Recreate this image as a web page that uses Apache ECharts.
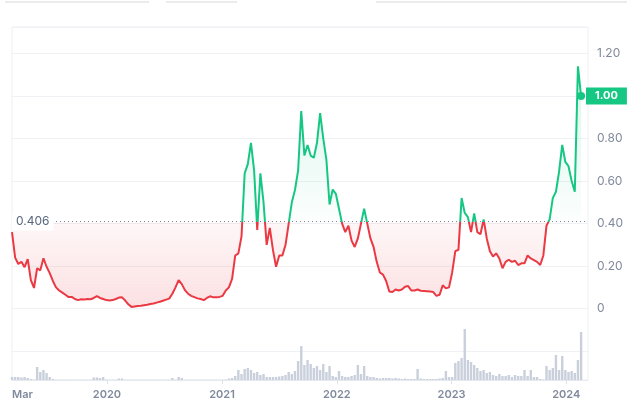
<!DOCTYPE html>
<html>
<head>
<meta charset="utf-8">
<title>Price chart</title>
<script src="https://cdn.jsdelivr.net/npm/echarts@6/dist/echarts.min.js"></script>
<style>
  html, body { margin: 0; padding: 0; background: #fff; }
  #chart { width: 631px; height: 416px; }
</style>
</head>
<body>
<div id="chart"></div>
<script>
// price sampled every 10 days from the first date
const startDate = '2019-03-05'
const stepDays = 10
const prices = [
  0.36, 0.24, 0.21, 0.22, 0.195, 0.233, 0.134, 0.097, 0.19, 0.18,
  0.237, 0.197, 0.167, 0.13, 0.10, 0.085, 0.075, 0.065, 0.054, 0.055,
  0.045, 0.04, 0.044, 0.043, 0.045, 0.044, 0.05, 0.059, 0.05, 0.045,
  0.04, 0.038, 0.04, 0.045, 0.052, 0.053, 0.038, 0.02, 0.008, 0.01,
  0.012, 0.013, 0.016, 0.018, 0.022, 0.024, 0.028, 0.032, 0.037, 0.042,
  0.047, 0.07, 0.10, 0.134, 0.115, 0.087, 0.07, 0.06, 0.054, 0.048,
  0.045, 0.04, 0.05, 0.058, 0.053, 0.053, 0.055, 0.06, 0.085, 0.10,
  0.14, 0.25, 0.26, 0.34, 0.636, 0.68, 0.78, 0.652, 0.37, 0.636,
  0.50, 0.30, 0.38, 0.275, 0.197, 0.25, 0.25, 0.30, 0.40, 0.50,
  0.558, 0.65, 0.93, 0.72, 0.77, 0.72, 0.71, 0.78, 0.92, 0.80,
  0.70, 0.49, 0.56, 0.54, 0.47, 0.40, 0.36, 0.39, 0.32, 0.29,
  0.33, 0.40, 0.47, 0.40, 0.33, 0.29, 0.22, 0.17, 0.16, 0.13,
  0.08, 0.078, 0.09, 0.085, 0.09, 0.103, 0.106, 0.085, 0.085, 0.09,
  0.084, 0.083, 0.082, 0.08, 0.078, 0.06, 0.065, 0.11, 0.095, 0.10,
  0.17, 0.27, 0.277, 0.52, 0.45, 0.43, 0.36, 0.448, 0.36, 0.35,
  0.42, 0.33, 0.27, 0.245, 0.26, 0.236, 0.19, 0.22, 0.23, 0.22,
  0.225, 0.205, 0.213, 0.213, 0.25, 0.236, 0.228, 0.22, 0.205, 0.25,
  0.39, 0.42, 0.52, 0.55, 0.644, 0.77, 0.69, 0.67, 0.60, 0.55,
  1.14, 1.00
]
// volume (relative units), same dates as prices
const volumes = [
  3, 3, 3, 2.5, 3, 2, 1, 0.5, 13, 8,
  10, 7, 3, 1, 0.3, 0.3, 0.3, 0.3, 0.3, 0.3,
  0.3, 0.3, 0.3, 0.3, 0.3, 0.3, 2.5, 2.5, 2, 3,
  0.5, 0.3, 0.3, 0.3, 1.5, 1.5, 0.3, 0.3, 0.3, 0.3,
  0.3, 0.3, 0.3, 0.3, 0.3, 0.3, 0.3, 0.3, 0.3, 0.3,
  0.3, 2, 0.3, 3, 2, 0.3, 0.3, 0.3, 0.3, 0.3,
  0.3, 0.3, 0.3, 0.3, 0.3, 0.3, 0.3, 0.3, 0.5, 1.5,
  2, 4, 10, 6, 11, 12, 10, 7, 8, 5,
  6, 3, 3, 3, 3, 3.5, 4, 5, 8, 6,
  9, 19, 34, 15, 20, 16, 12, 14, 10, 16,
  8, 14, 4, 3, 9, 4, 3, 3, 4, 5,
  15, 6, 14, 4, 3, 3, 2, 1.5, 2, 2,
  2, 1.5, 2, 1.5, 1, 1.5, 1, 1, 1, 11,
  1.5, 1, 1, 1, 1, 1, 1.5, 2, 9, 3,
  3, 17, 19, 22, 51, 20, 18, 15, 12, 9,
  10, 7, 8, 5, 4, 6, 4, 4, 5, 3,
  5, 4, 4, 10, 4, 10, 3, 3, 1, 0.5,
  14, 10, 12, 25, 10, 24, 10, 8, 9, 7,
  20, 48
]
const baseline = 0.406
const axisStart = '2019-03-05'
const axisEnd = '2024-03-10'
const tickDates = ['2019-03-05', '2020-01-01', '2021-01-01', '2022-01-01', '2023-01-01', '2024-01-01']
const tickLabels = ['Mar', '2020', '2021', '2022', '2023', '2024']

const GREEN = '#16c784'
const RED = '#ea3943'
const GREY = '#808a9d'

const chart = echarts.init(document.getElementById('chart'))

const t0 = Date.parse(startDate)
const dayMs = 86400000
const priceData = prices.map((p, i) => [t0 + i * stepDays * dayMs, p])
const volumeData = volumes.map((v, i) => [t0 + i * stepDays * dayMs, v])
const last = priceData[priceData.length - 1]
const tickValues = tickDates.map(d => Date.parse(d))
const xMin = Date.parse(axisStart)
const xMax = Date.parse(axisEnd)

// where the baseline falls inside the area's bounding box
const pMax = Math.max(...prices)
const pMin = Math.min(...prices)
const cut = (pMax - baseline) / (pMax - pMin)

const option = {
  animation: false,
  textStyle: { fontFamily: 'Inter, "Noto Sans", sans-serif' },
  graphic: [
    { type: 'line', silent: true, shape: { x1: 5, y1: 2, x2: 149, y2: 2 }, style: { stroke: '#ececec', lineWidth: 2 } },
    { type: 'line', silent: true, shape: { x1: 166, y1: 2, x2: 237, y2: 2 }, style: { stroke: '#ececec', lineWidth: 2 } },
    { type: 'line', silent: true, shape: { x1: 376, y1: 2, x2: 627, y2: 2 }, style: { stroke: '#ececec', lineWidth: 2 } }
  ],
  grid: [
    { left: 12, right: 43, top: 27, bottom: 36, show: true, borderColor: '#eceef1', borderWidth: 1 },
    { left: 12, right: 43, top: 309, bottom: 36 }
  ],
  xAxis: [
    { type: 'value', gridIndex: 0, min: xMin, max: xMax, show: false },
    {
      type: 'value', gridIndex: 1, min: xMin, max: xMax,
      axisLine: { lineStyle: { color: '#e6e9ee' } },
      axisTick: { customValues: tickValues.slice(1), length: 4, lineStyle: { color: '#dfe3e8' } },
      splitLine: { show: false },
      axisLabel: {
        customValues: tickValues,
        formatter: v => tickLabels[tickValues.indexOf(v)] || '',
        color: GREY, fontSize: 11, fontWeight: 600, margin: 9,
        alignMinLabel: 'left'
      }
    }
  ],
  yAxis: [
    {
      type: 'value', gridIndex: 0, position: 'right',
      min: -0.336, max: 1.325, splitNumber: 8,
      axisLine: { show: false },
      axisTick: { show: false },
      splitLine: { lineStyle: { color: '#f0f1f4' } },
      axisLabel: {
        color: GREY, fontSize: 12, margin: 9,
        showMinLabel: false, showMaxLabel: false,
        formatter: v => (v < 0 ? '' : v === 0 ? '0' : v.toFixed(2))
      },
      axisPointer: {
        show: true, status: 'show', value: last[1], triggerTooltip: false,
        type: 'line', lineStyle: { opacity: 0 },
        label: {
          show: true, backgroundColor: GREEN, color: '#fff', fontWeight: 'bold',
          fontSize: 11, padding: [3, 9, 3, 9], margin: -2, borderRadius: 0,
          formatter: p => Number(p.value).toFixed(2)
        }
      }
    },
    { type: 'value', gridIndex: 1, min: 0, max: 71, show: false }
  ],
  visualMap: {
    type: 'piecewise', show: false, seriesIndex: 0, dimension: 1,
    pieces: [
      { gte: -1, lte: baseline, color: RED },
      { gt: baseline, lte: 5, color: GREEN }
    ],
    outOfRange: { color: GREEN }
  },
  series: [
    {
      name: 'Price', type: 'line', xAxisIndex: 0, yAxisIndex: 0,
      data: priceData, symbol: 'none', showSymbol: false,
      lineStyle: { width: 2 },
      areaStyle: {
        origin: baseline,
        color: new echarts.graphic.LinearGradient(0, 0, 0, 1, [
          { offset: 0, color: 'rgba(22,199,132,0.24)' },
          { offset: cut, color: 'rgba(22,199,132,0.02)' },
          { offset: cut, color: 'rgba(234,57,67,0.06)' },
          { offset: 1, color: 'rgba(234,57,67,0.22)' }
        ])
      },
      markLine: {
        silent: true, symbol: 'none',
        lineStyle: { type: [1, 3], color: '#7d8696', width: 1 },
        label: {
          position: 'start', align: 'left', distance: 0,
          formatter: baseline.toFixed(3),
          color: '#58667e', fontSize: 12, backgroundColor: '#fff', padding: [3, 4]
        },
        data: [{ yAxis: baseline }]
      },
      markPoint: {
        silent: true, symbol: 'circle', symbolSize: 8,
        itemStyle: { color: GREEN },
        label: { show: false },
        data: [{ coord: last }]
      }
    },
    {
      name: 'Volume', type: 'bar', xAxisIndex: 1, yAxisIndex: 1,
      data: volumeData, barWidth: 2.4, silent: true,
      itemStyle: { color: '#c9d0dc' }
    }
  ]
}

chart.setOption(option)
</script>
</body>
</html>
